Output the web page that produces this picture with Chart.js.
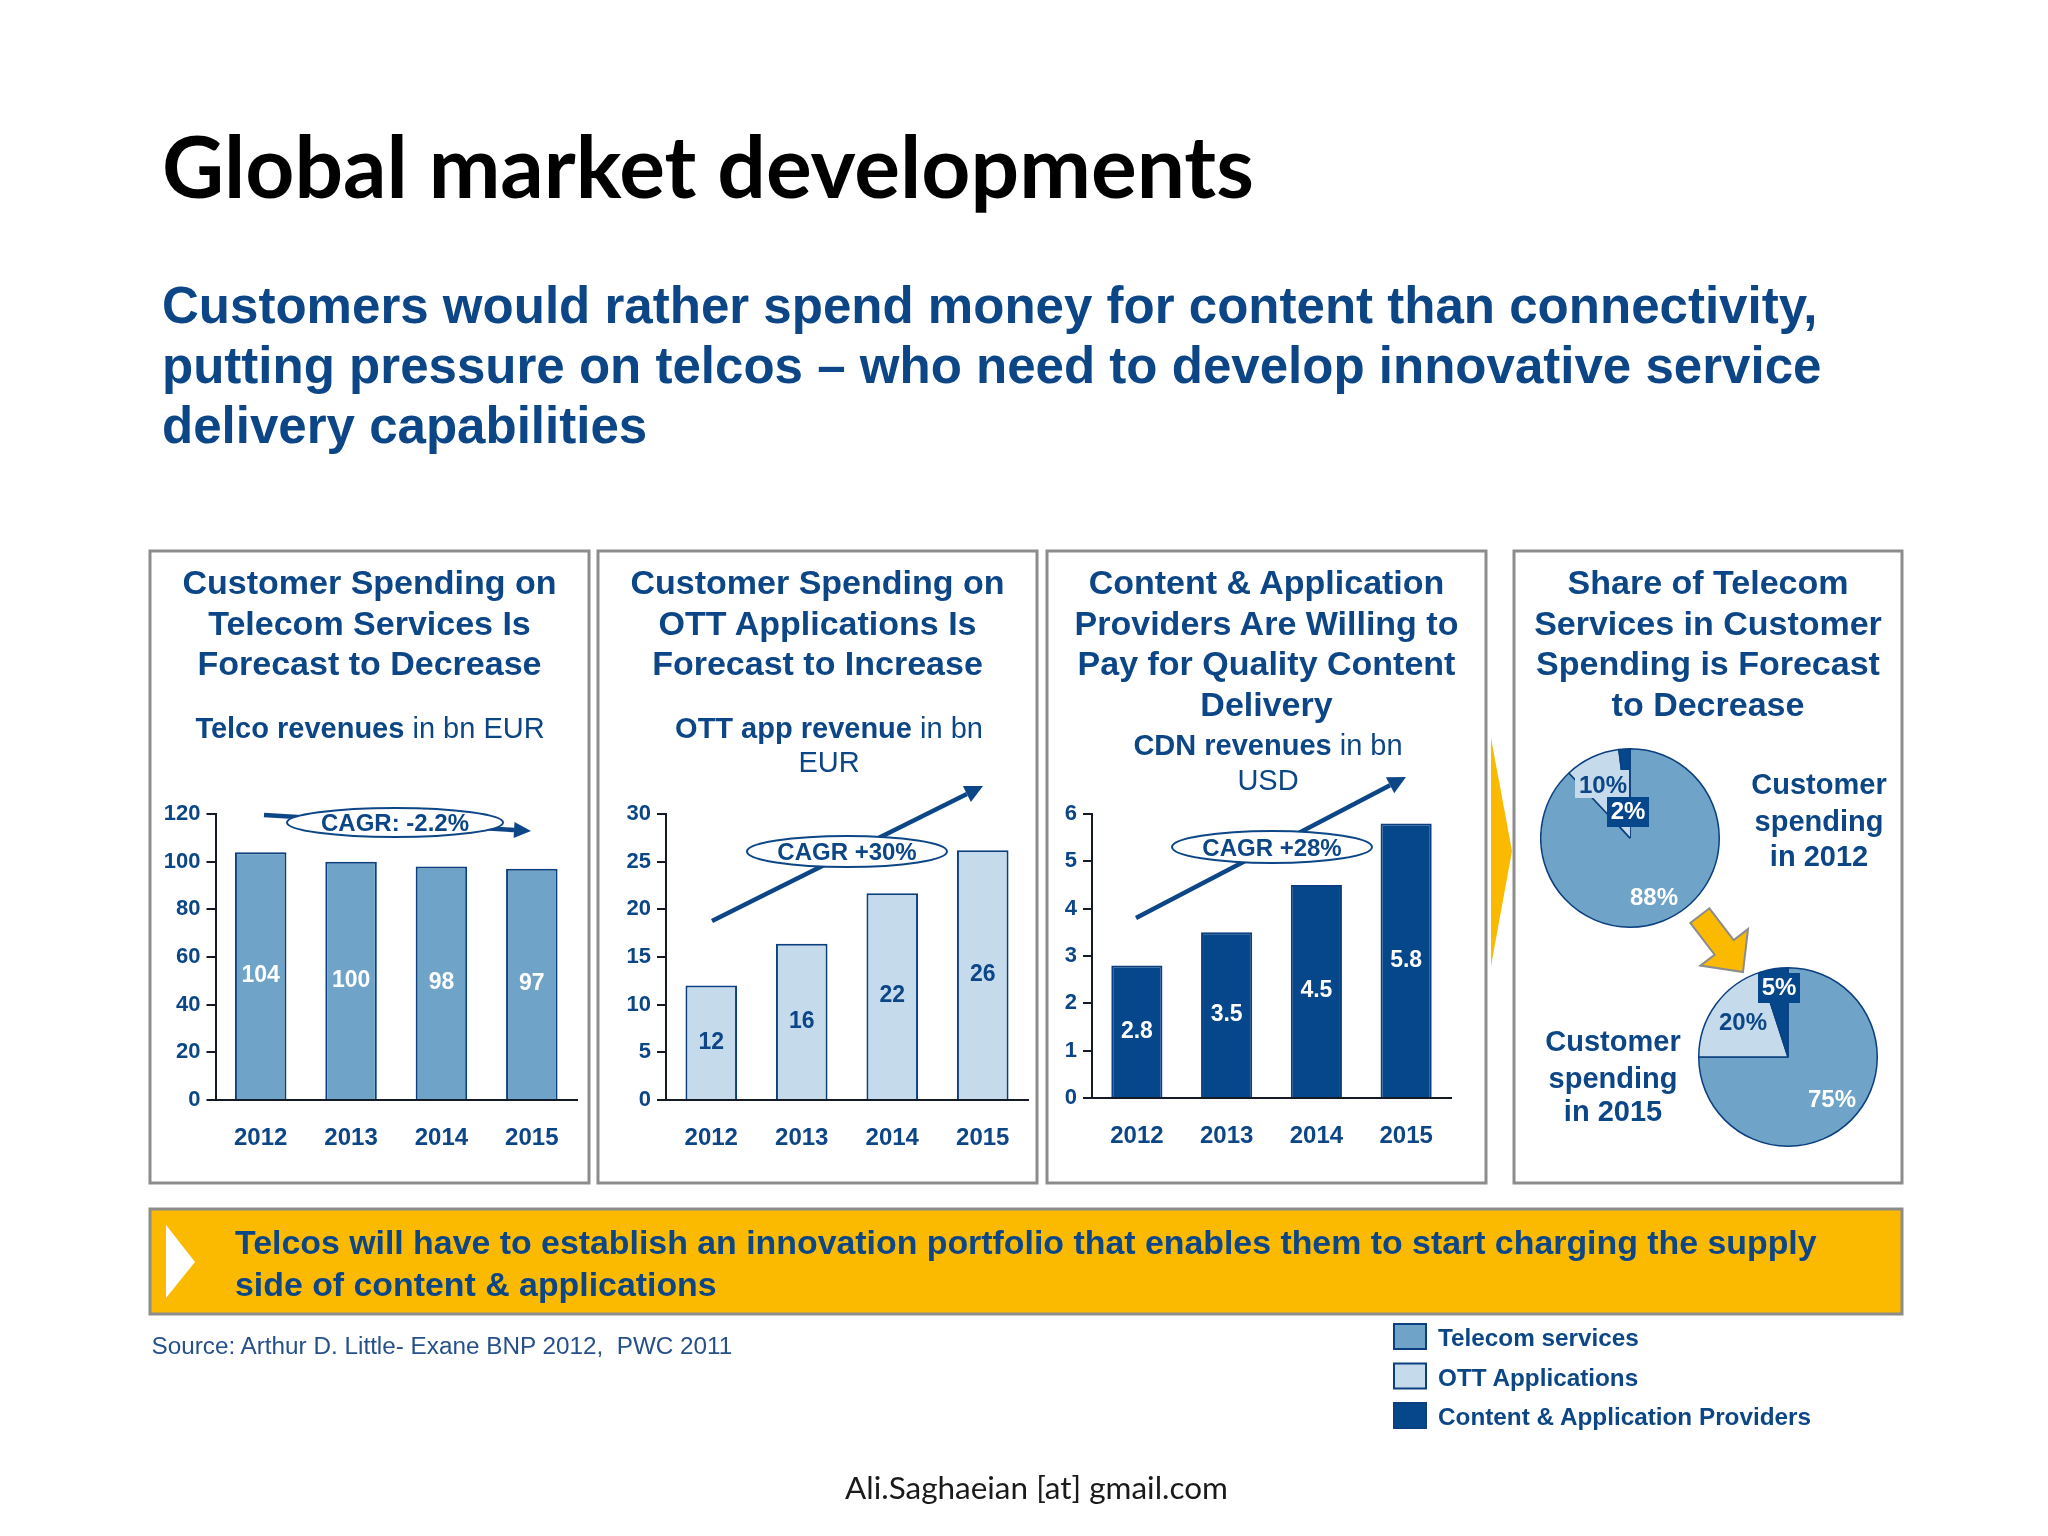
<!DOCTYPE html>
<html><head><meta charset="utf-8">
<script src="https://cdn.jsdelivr.net/npm/chart.js@4.4.1/dist/chart.umd.min.js"></script>
<style>
html,body{margin:0;padding:0;background:#fff;}
#page{position:relative;width:2048px;height:1536px;overflow:hidden;background:#fff;}
#page canvas{position:absolute;}
#ov{position:absolute;left:0;top:0;pointer-events:none;}
</style></head><body>
<div id="page">
<canvas id="c1" width="440" height="400" style="left:150px;top:780px"></canvas>
<canvas id="c2" width="440" height="400" style="left:598px;top:780px"></canvas>
<canvas id="c3" width="440" height="400" style="left:1047px;top:780px"></canvas>
<canvas id="p1" width="180" height="180" style="left:1540px;top:748px"></canvas>
<canvas id="p2" width="180" height="180" style="left:1698px;top:967px"></canvas>
<svg id="ov" width="2048" height="1536" xmlns="http://www.w3.org/2000/svg"></svg>
</div>
<script>
// ---------- data ----------
const years = ['2012', '2013', '2014', '2015'];
const telcoRevenue = [104, 100, 98, 97];
const ottRevenue = [12, 16.4, 21.7, 26.2];
const cdnRevenue = [2.8, 3.5, 4.5, 5.8];
const telcoAxis = [0, 120, 20];
const ottAxis = [0, 30, 5];
const cdnAxis = [0, 6, 1];
const cagrTexts = ['CAGR: -2.2%', 'CAGR +30%', 'CAGR +28%'];
const seriesNames = ['Telecom services', 'OTT Applications', 'Content & Application Providers'];
const share2012 = [88, 10, 2];
const share2015 = [75, 20, 5];

// ---------- styles ----------
const ARIAL = '"Liberation Sans", Arial, sans-serif';
const TXT = '#0d4686';
const MID = '#6fa3c7';
const LIGHT = '#c5dbec';
const DARK = '#06468a';
const BORDER = '#0b3f7f';
const AXIS = '#141a26';
const YEL = '#fbba00';
const GRAY = '#8c8c8c';

Chart.defaults.font.family = ARIAL;

const barLabels = {
  id: 'barLabels',
  afterDatasetsDraw(chart, args, opts) {
    const ctx = chart.ctx;
    const meta = chart.getDatasetMeta(0);
    ctx.save();
    ctx.font = 'bold 23px ' + ARIAL;
    ctx.fillStyle = opts.color;
    ctx.textAlign = 'center';
    ctx.textBaseline = 'middle';
    meta.data.forEach((bar, i) => {
      const v = chart.data.datasets[0].data[i];
      ctx.fillText(opts.decimals ? v.toFixed(opts.decimals) : String(Math.round(v)), bar.x, (bar.y + bar.base) / 2);
    });
    ctx.restore();
  }
};

function barChart(id, values, axis, cfg) {
  return new Chart(document.getElementById(id), {
    type: 'bar',
    data: { labels: years, datasets: [{ data: values, backgroundColor: cfg.fill, borderColor: BORDER, borderWidth: 2, barPercentage: 0.57, categoryPercentage: 1 }] },
    options: {
      responsive: false, animation: false, devicePixelRatio: 1,
      layout: { padding: { top: cfg.padTop, right: cfg.padRight, left: 0, bottom: 0 } },
      plugins: { legend: { display: false }, tooltip: { enabled: false }, barLabels: { color: cfg.labelColor, decimals: cfg.decimals } },
      scales: {
        x: {
          grid: { display: false, drawTicks: false },
          border: { display: true, color: AXIS, width: 2 },
          ticks: { color: TXT, font: { size: 24, weight: 'bold' }, padding: cfg.xPad },
          afterFit: s => { s.height = cfg.xH; }
        },
        y: {
          min: axis[0], max: axis[1],
          ticks: { stepSize: axis[2], color: TXT, font: { size: 22, weight: 'bold' }, padding: 6 },
          grid: { drawOnChartArea: false, drawTicks: true, tickLength: 9, color: AXIS, lineWidth: 2 },
          border: { display: true, color: AXIS, width: 2 },
          afterFit: s => { s.width = cfg.yW; }
        }
      }
    },
    plugins: [barLabels]
  });
}

barChart('c1', telcoRevenue, telcoAxis, { fill: MID, labelColor: '#ffffff', padTop: 34, padRight: 13, yW: 65.5, xH: 80, xPad: 24 });
barChart('c2', ottRevenue, ottAxis, { fill: LIGHT, labelColor: TXT, padTop: 34, padRight: 10, yW: 68, xH: 80, xPad: 24 });
barChart('c3', cdnRevenue, cdnAxis, { fill: DARK, labelColor: '#ffffff', padTop: 34, padRight: 36, yW: 45, xH: 82, xPad: 24, decimals: 1 });

const pieLabels = {
  id: 'pieLabels',
  afterDatasetsDraw(chart, args, opts) {
    const ctx = chart.ctx;
    const arc = chart.getDatasetMeta(0).data[0];
    const cx = arc.x, cy = arc.y;
    const data = chart.data.datasets[0].data;
    ctx.save();
    ctx.font = 'bold 24px ' + ARIAL;
    ctx.textAlign = 'center';
    ctx.textBaseline = 'middle';
    opts.items.forEach(it => {
      if (it.rect) {
        ctx.fillStyle = it.rect.fill;
        ctx.fillRect(cx + it.rect.x, cy + it.rect.y, it.rect.w, it.rect.h);
      }
      if (it.pointer) {
        const p = it.pointer;
        ctx.beginPath();
        ctx.moveTo(cx + p[0][0], cy + p[0][1]);
        ctx.lineTo(cx + p[1][0], cy + p[1][1]);
        ctx.lineTo(cx + p[2][0], cy + p[2][1]);
        ctx.closePath();
        ctx.fillStyle = LIGHT; ctx.fill();
        ctx.beginPath();
        ctx.moveTo(cx + p[0][0], cy + p[0][1]);
        ctx.lineTo(cx + p[2][0], cy + p[2][1]);
        ctx.strokeStyle = BORDER; ctx.lineWidth = 1.5; ctx.stroke();
      }
      ctx.fillStyle = it.color;
      ctx.fillText(data[it.i] + '%', cx + it.dx, cy + it.dy);
    });
    ctx.restore();
  }
};

function pieChart(id, values, items) {
  return new Chart(document.getElementById(id), {
    type: 'pie',
    data: { labels: seriesNames, datasets: [{ data: values, backgroundColor: [MID, LIGHT, DARK], borderColor: BORDER, borderWidth: 1.5 }] },
    options: {
      responsive: false, animation: false, devicePixelRatio: 1,
      layout: { padding: 0 },
      plugins: { legend: { display: false }, tooltip: { enabled: false }, pieLabels: { items } }
    },
    plugins: [pieLabels]
  });
}

pieChart('p1', share2012, [
  { i: 0, dx: 24, dy: 60, color: '#ffffff' },
  { i: 1, dx: -27, dy: -52, color: TXT, rect: { x: -55, y: -68, w: 54, h: 28, fill: LIGHT } },
  { i: 2, dx: -2, dy: -26, color: '#ffffff', rect: { x: -23, y: -41, w: 42, h: 30, fill: DARK }, pointer: [[-10, -11], [0, -11], [0, 0]] }
]);
pieChart('p2', share2015, [
  { i: 0, dx: 44, dy: 43, color: '#ffffff' },
  { i: 1, dx: -45, dy: -34, color: TXT },
  { i: 2, dx: -9, dy: -69, color: '#ffffff', rect: { x: -30, y: -84, w: 42, h: 30, fill: DARK } }
]);

// ---------- overlay (frames, texts, annotations) ----------
function esc(s) { return s.replace(/&/g, '&amp;').replace(/</g, '&lt;'); }
function T(x, y, txt, o = {}) {
  const size = o.size || 34, weight = o.weight || 'bold', anchor = o.anchor || 'middle', color = o.color || TXT, family = o.family || ARIAL;
  return `<text ${o.id ? 'id="' + o.id + '"' : ''} ${o.cls ? 'class="' + o.cls + '"' : ''} x="${x}" y="${y}" font-family='${family}' font-size="${size}" font-weight="${weight}" fill="${color}" text-anchor="${anchor}" style="white-space:pre">${o.raw ? txt : esc(txt)}</text>`;
}
function arrow(x1, y1, x2, y2, w, hl, hw, color) {
  const dx = x2 - x1, dy = y2 - y1, L = Math.hypot(dx, dy), ux = dx / L, uy = dy / L, nx = -uy, ny = ux;
  const bx = x2 - ux * hl, by = y2 - uy * hl;
  return `<line x1="${x1}" y1="${y1}" x2="${bx}" y2="${by}" stroke="${color}" stroke-width="${w}"/>` +
    `<polygon points="${x2},${y2} ${bx + nx * hw},${by + ny * hw} ${bx - nx * hw},${by - ny * hw}" fill="${color}"/>`;
}
function ell(cx, cy, rx, ry, txt, by) {
  return `<ellipse cx="${cx}" cy="${cy}" rx="${rx}" ry="${ry}" fill="#fff" stroke="${TXT}" stroke-width="2"/>` + T(cx, by, txt, { size: 24 });
}

const s = [];
// page title + headline
s.push(T(162, 198, 'Global market developments', { size: 85, anchor: 'start', color: '#000', family: 'Lato, "Open Sans", sans-serif', id: 'title' }));
s.push(T(162, 323, 'Customers would rather spend money for content than connectivity,', { size: 50, anchor: 'start', id: 'h1', cls: 'hl' }));
s.push(T(162, 383, 'putting pressure on telcos \u2013 who need to develop innovative service', { size: 50, anchor: 'start', cls: 'hl' }));
s.push(T(162, 443, 'delivery capabilities', { size: 50, anchor: 'start', cls: 'hl' }));

// panel frames
[[150, 551, 439, 632], [598, 551, 439, 632], [1047, 551, 439, 632], [1514, 551, 388, 632]].forEach(r => {
  s.push(`<rect x="${r[0]}" y="${r[1]}" width="${r[2]}" height="${r[3]}" fill="none" stroke="${GRAY}" stroke-width="3"/>`);
});
// yellow chevron between panel 3 and 4
s.push(`<polygon points="1491,738 1512,851 1491,966" fill="${YEL}"/>`);

// panel titles
const p1t = ['Customer Spending on', 'Telecom Services Is', 'Forecast to Decrease'];
const p2t = ['Customer Spending on', 'OTT Applications Is', 'Forecast to Increase'];
const p3t = ['Content & Application', 'Providers Are Willing to', 'Pay for Quality Content', 'Delivery'];
const p4t = ['Share of Telecom', 'Services in Customer', 'Spending is Forecast', 'to Decrease'];
const tb = [594, 635, 675, 716];
p1t.forEach((t, i) => s.push(T(369.5, tb[i], t)));
p2t.forEach((t, i) => s.push(T(817.5, tb[i], t)));
p3t.forEach((t, i) => s.push(T(1266.5, tb[i], t)));
p4t.forEach((t, i) => s.push(T(1708, tb[i], t)));

// subtitles
s.push(T(370, 738, '<tspan font-weight="bold">Telco revenues</tspan><tspan font-weight="normal"> in bn EUR</tspan>', { size: 29, raw: true }));
s.push(T(829, 738, '<tspan font-weight="bold">OTT app revenue</tspan><tspan font-weight="normal"> in bn</tspan>', { size: 29, raw: true }));
s.push(T(829, 772, 'EUR', { size: 29, weight: 'normal' }));
s.push(T(1268, 755, '<tspan font-weight="bold">CDN revenues</tspan><tspan font-weight="normal"> in bn</tspan>', { size: 29, raw: true }));
s.push(T(1268, 790, 'USD', { size: 29, weight: 'normal' }));

// CAGR arrows and ellipses
s.push(arrow(264, 815, 531, 831, 4.5, 17, 8, TXT));
s.push(ell(395, 822.5, 108, 14.5, cagrTexts[0], 831));
s.push(arrow(712, 921, 983, 786, 4.5, 18, 9, TXT));
s.push(ell(847, 851.5, 100, 15.5, cagrTexts[1], 860));
s.push(arrow(1136, 918, 1406, 777, 4.5, 18, 9, TXT));
s.push(ell(1272, 847, 100, 16, cagrTexts[2], 856));

// pie captions
['Customer', 'spending', 'in 2012'].forEach((t, i) => s.push(T(1819, [794, 831, 866][i], t, { size: 29 })));
['Customer', 'spending', 'in 2015'].forEach((t, i) => s.push(T(1613, [1051, 1088, 1121][i], t, { size: 29 })));

// yellow block arrow between pies
(function () {
  const ux = 0.608, uy = 0.794, nx = 0.794, ny = -0.608;
  const P = [1743, 972], M = [P[0] - 31 * ux, P[1] - 31 * uy], Tt = [M[0] - 40 * ux, M[1] - 40 * uy];
  const pt = (b, k) => (b[0] + k * nx).toFixed(1) + ',' + (b[1] + k * ny).toFixed(1);
  const pts = [pt(Tt, 12), pt(M, 12), pt(M, 30), P.join(','), pt(M, -30), pt(M, -12), pt(Tt, -12)].join(' ');
  s.push(`<polygon points="${pts}" fill="${YEL}" stroke="${GRAY}" stroke-width="2" stroke-linejoin="miter"/>`);
})();

// yellow conclusion band
s.push(`<rect x="150" y="1209" width="1752" height="105" fill="${YEL}" stroke="${GRAY}" stroke-width="3"/>`);
s.push(`<polygon points="166,1225 195,1262 166,1298" fill="#fff"/>`);
s.push(T(235, 1254, 'Telcos will have to establish an innovation portfolio that enables them to start charging the supply', { size: 30, anchor: 'start', id: 'b1', cls: 'band' }));
s.push(T(235, 1296, 'side of content & applications', { size: 30, anchor: 'start', cls: 'band' }));

// source
s.push(T(151.5, 1354, 'Source: Arthur D. Little- Exane BNP 2012,\u00a0 PWC 2011', { size: 22, weight: 'normal', anchor: 'start', color: '#26508a', id: 'src' }));

// legend
const legFill = [MID, LIGHT, DARK];
const legY = [1324, 1363.5, 1403];
seriesNames.forEach((n, i) => {
  s.push(`<rect x="1394" y="${legY[i]}" width="32" height="25" fill="${legFill[i]}" stroke="${BORDER}" stroke-width="2"/>`);
  s.push(T(1438, legY[i] + 22, n, { size: 24.3, anchor: 'start' }));
});

// footer
s.push(T(1036.5, 1499, 'Ali.Saghaeian [at] gmail.com', { size: 31, weight: 'normal', color: '#1a1a1a', family: 'Lato, "Open Sans", sans-serif', id: 'foot' }));

const ov = document.getElementById('ov');
ov.innerHTML = s.join('');

// fit some long texts to the reference widths
function fitGroup(refId, target, cls) {
  const ref = document.getElementById(refId);
  const w = ref.getComputedTextLength();
  if (!w) return;
  const k = target / w;
  const els = cls ? ov.querySelectorAll('.' + cls) : [ref];
  els.forEach(el => { el.setAttribute('font-size', (parseFloat(el.getAttribute('font-size')) * k).toFixed(2)); });
}
fitGroup('title', 1092);
fitGroup('h1', 1656, 'hl');
fitGroup('b1', 1582, 'band');
fitGroup('src', 581);
fitGroup('foot', 383);
</script>
</body></html>
